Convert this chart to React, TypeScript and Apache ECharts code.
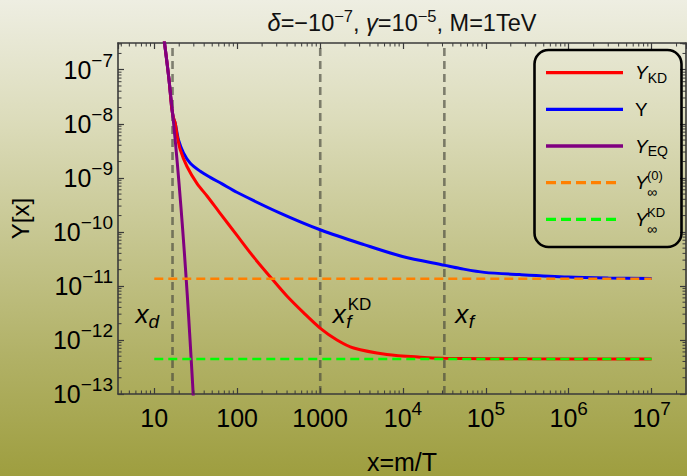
import React, { useEffect, useRef } from "react";
import * as echarts from "echarts";

const FONT = "'Liberation Sans', Arial, sans-serif";

// Axis ranges
const X_MIN = 3.65;
const X_MAX = 2.6e7;
const Y_MIN = 1e-13;
const Y_MAX = 3.12e-7;

// Tick labels
const xTickValues = [10, 100, 1000, 1e4, 1e5, 1e6, 1e7];
const xTickLabels = ["10", "100", "1000", "10{sup|4}", "10{sup|5}", "10{sup|6}", "10{sup|7}"];
const yTickValues = [1e-13, 1e-12, 1e-11, 1e-10, 1e-9, 1e-8, 1e-7];
const yTickLabels = [
  "10{sup|−13}",
  "10{sup|−12}",
  "10{sup|−11}",
  "10{sup|−10}",
  "10{sup|−9}",
  "10{sup|−8}",
  "10{sup|−7}",
];

// Y (blue)
const yX = [13.0, 15.0, 16.2, 17.0, 17.9, 19.6, 22.5, 27.2, 35.9, 47.3, 65, 99, 335, 1040, 3390, 9860, 32100, 49000, 96000, 257000, 977000, 3e6, 1e7];
const yVal = [4.1e-7, 6.9e-8, 2.0e-8, 1.3e-8, 1.02e-8, 5.0e-9, 2.9e-9, 1.86e-9, 1.32e-9, 1.02e-9, 7.8e-10, 5.4e-10, 2.2e-10, 1.07e-10, 5.8e-11, 3.5e-11, 2.4e-11, 2.1e-11, 1.78e-11, 1.62e-11, 1.46e-11, 1.4e-11, 1.37e-11];

// Y_KD (red)
const ykdX = [13.0, 15.0, 16.2, 17.0, 17.9, 18.8, 20.6, 24.8, 32.7, 43.3, 61, 99, 161, 263, 398, 631, 1000, 1600, 2540, 6400, 16200, 31000, 316000, 1e7];
const ykdVal = [4.1e-7, 6.9e-8, 2.0e-8, 1.3e-8, 1.02e-8, 6.2e-9, 3.3e-9, 1.62e-9, 7.9e-10, 4.6e-10, 2.3e-10, 8.7e-11, 3.3e-11, 1.35e-11, 6.5e-12, 3.2e-12, 1.66e-12, 1.0e-12, 7.1e-13, 5.4e-13, 4.8e-13, 4.6e-13, 4.47e-13, 4.45e-13];

// Y_EQ (purple)
const yeqX = [13.0, 15.0, 17.0, 19.0, 21.0, 23.0, 25.0, 27.0, 29.0, 29.6];
const yeqVal = [4.1e-7, 6.9e-8, 1.12e-8, 1.8e-9, 2.8e-10, 4.4e-11, 6.8e-12, 1.0e-12, 1.55e-13, 8.5e-14];

// asymptotes
const asymX = [10, 1e7];
const yInf0 = 1.36e-11;
const yInfKD = 4.45e-13;

// vertical markers
const xd = 16.6;
const xfKD = 1005;
const xf = 31600;

const COL_RED = "#ff0000";
const COL_BLUE = "#0000ff";
const COL_PURPLE = "#800080";
const COL_ORANGE = "#ff8000";
const COL_GREEN = "#00ff00";
const COL_GRAY = "rgba(70,70,60,0.65)";
const AXIS_COL = "#3a3a3a";

function labelFor(values: number[], labels: string[], v: number) {
  const lv = Math.log10(v);
  for (let i = 0; i < values.length; i++) {
    if (Math.abs(Math.log10(values[i]) - lv) < 1e-6) return labels[i];
  }
  return "";
}

function minorTicks(lo: number, hi: number) {
  const out: number[] = [];
  const e0 = Math.floor(Math.log10(lo));
  const e1 = Math.ceil(Math.log10(hi));
  for (let e = e0; e <= e1; e++) {
    for (let k = 2; k <= 9; k++) {
      const v = k * Math.pow(10, e);
      if (v > lo && v < hi) out.push(v);
    }
  }
  return out;
}

export default function App() {
  const ref = useRef<HTMLDivElement>(null);

  useEffect(() => {
    document.body.style.margin = "0";
    const chart = echarts.init(ref.current!, null, { renderer: "svg" });

    const minorX = minorTicks(X_MIN, X_MAX);
    const minorY = minorTicks(Y_MIN, Y_MAX);

    const tickLine = { color: AXIS_COL, width: 1.2 };
    const axisLine = { show: true, onZero: false, lineStyle: { color: AXIS_COL, width: 1.6 } };
    const supStyle = { fontFamily: FONT, fontSize: 19, lineHeight: 19, padding: [0, 0, 19, 0], color: "#000" };

    const curve = (name: string, xs: number[], ys: number[], color: string) => ({
      name,
      type: "line",
      data: xs.map((x, i) => [x, ys[i]]),
      symbol: "none",
      smooth: 0.3,
      lineStyle: { color, width: 3 },
    });

    const option: any = {
      animation: false,
      backgroundColor: "transparent",
      textStyle: { fontFamily: FONT },
      title: {
        text: "{it|δ}=−10{sup|−7}, {it|γ}=10{sup|−5}, M=1TeV",
        left: 402,
        top: 8,
        textAlign: "center",
        padding: 0,
        textStyle: {
          fontFamily: FONT,
          fontSize: 23.5,
          fontWeight: "normal",
          color: "#111",
          lineHeight: 29,
          rich: {
            it: { fontFamily: FONT, fontStyle: "italic", fontSize: 23.5, lineHeight: 29, color: "#111" },
            sup: { fontFamily: FONT, fontSize: 16.5, lineHeight: 16, padding: [0, 0, 13, 0], color: "#111" },
          },
        },
      },
      grid: { left: 118, right: 1, top: 43, bottom: 82, containLabel: false, outerBoundsMode: "none" },
      xAxis: [
        {
          type: "log",
          logBase: 10,
          min: X_MIN,
          max: X_MAX,
          position: "bottom",
          name: "x=m/T",
          nameLocation: "middle",
          nameGap: 55,
          nameTextStyle: { fontFamily: FONT, fontSize: 25, lineHeight: 25, color: "#000" },
          axisLine,
          axisTick: { show: true, inside: true, length: 6, lineStyle: tickLine },
          minorTick: { show: false },
          splitLine: { show: false },
          axisLabel: {
            show: true,
            showMinLabel: false,
            showMaxLabel: false,
            margin: 5,
            fontFamily: FONT,
            fontSize: 25,
            lineHeight: 38,
            color: "#000",
            formatter: (v: number) => labelFor(xTickValues, xTickLabels, v),
            rich: { sup: supStyle },
          },
        },
        {
          type: "log",
          logBase: 10,
          min: X_MIN,
          max: X_MAX,
          position: "top",
          axisLine,
          axisTick: { show: true, inside: true, length: 6, lineStyle: tickLine },
          axisLabel: { show: false },
          splitLine: { show: false },
        },
      ],
      yAxis: [
        {
          type: "log",
          logBase: 10,
          min: Y_MIN,
          max: Y_MAX,
          position: "left",
          name: "Y[x]",
          nameLocation: "middle",
          nameGap: 86,
          nameTextStyle: { fontFamily: FONT, fontSize: 24, color: "#000" },
          axisLine,
          axisTick: { show: true, inside: true, length: 6, lineStyle: tickLine },
          minorTick: { show: false },
          splitLine: { show: false },
          axisLabel: {
            show: true,
            showMinLabel: true,
            showMaxLabel: false,
            margin: 5,
            fontFamily: FONT,
            fontSize: 25,
            lineHeight: 38,
            color: "#000",
            formatter: (v: number) => labelFor(yTickValues, yTickLabels, v),
            rich: { sup: supStyle },
          },
        },
        {
          type: "log",
          logBase: 10,
          min: Y_MIN,
          max: Y_MAX,
          position: "right",
          axisLine,
          axisTick: { show: true, inside: true, length: 6, lineStyle: tickLine },
          axisLabel: { show: false },
          splitLine: { show: false },
        },
      ],
      series: [
        ...[xd, xfKD, xf].map((xv) => ({
          type: "line",
          data: [
            [xv, Y_MIN],
            [xv, Y_MAX],
          ],
          symbol: "none",
          silent: true,
          lineStyle: { color: COL_GRAY, width: 2.6, type: [8, 5] },
        })),
        curve("Y", yX, yVal, COL_BLUE),
        curve("Y_KD", ykdX, ykdVal, COL_RED),
        curve("Y_EQ", yeqX, yeqVal, COL_PURPLE),
        {
          name: "Y_inf0",
          type: "line",
          data: asymX.map((x) => [x, yInf0]),
          symbol: "none",
          lineStyle: { color: COL_ORANGE, width: 2.6, type: [9, 5] },
        },
        {
          name: "Y_infKD",
          type: "line",
          data: asymX.map((x) => [x, yInfKD]),
          symbol: "none",
          lineStyle: { color: COL_GREEN, width: 2.6, type: [9, 5] },
        },
        {
          type: "custom",
          silent: true,
          clip: false,
          z: 10,
          data: minorX.map((v) => [v, Y_MIN]),
          renderItem: (params: any, api: any) => {
            const p = api.coord([api.value(0), Y_MIN]);
            const cs = params.coordSys;
            const st = { stroke: AXIS_COL, lineWidth: 1 };
            return {
              type: "group",
              children: [
                { type: "line", shape: { x1: p[0], y1: cs.y + cs.height, x2: p[0], y2: cs.y + cs.height - 3.5 }, style: st },
                { type: "line", shape: { x1: p[0], y1: cs.y, x2: p[0], y2: cs.y + 3.5 }, style: st },
              ],
            };
          },
        },
        {
          type: "custom",
          silent: true,
          clip: false,
          z: 10,
          data: minorY.map((v) => [X_MIN, v]),
          renderItem: (params: any, api: any) => {
            const p = api.coord([X_MIN, api.value(1)]);
            const cs = params.coordSys;
            const st = { stroke: AXIS_COL, lineWidth: 1 };
            return {
              type: "group",
              children: [
                { type: "line", shape: { x1: cs.x, y1: p[1], x2: cs.x + 3.5, y2: p[1] }, style: st },
                { type: "line", shape: { x1: cs.x + cs.width, y1: p[1], x2: cs.x + cs.width - 3.5, y2: p[1] }, style: st },
              ],
            };
          },
        },
      ],
    };

    chart.setOption(option);

    const px = (x: number) => (chart.convertToPixel({ gridIndex: 0 } as any, [x, 1e-11]) as number[])[0];

    const txt = (text: string, x: number, y: number, size: number, italic: boolean, align = "left", extra: any = {}) => ({
      type: "text",
      x,
      y,
      silent: true,
      z: 100,
      style: {
        text,
        fontFamily: FONT,
        fontSize: size,
        fontStyle: italic ? "italic" : "normal",
        fill: "#000",
        align,
        verticalAlign: "middle",
        textAlign: align,
        textVerticalAlign: "middle",
        ...extra,
      },
    });

    // legend
    const lgX0 = 546;
    const lgX1 = 623;
    const rows = [72.7, 109.3, 146, 182.7, 219.3];
    const legendItems: any[] = [
      {
        type: "rect",
        shape: { x: 534.5, y: 50, width: 147, height: 197, r: 14 },
        style: { fill: "rgba(255,255,255,0)", stroke: "#000", lineWidth: 2.6 },
        silent: true,
        z: 90,
      },
    ];
    const lineDefs = [
      { color: COL_RED, dash: null },
      { color: COL_BLUE, dash: null },
      { color: COL_PURPLE, dash: null },
      { color: COL_ORANGE, dash: [10, 5] },
      { color: COL_GREEN, dash: [10, 5] },
    ];
    lineDefs.forEach((d, i) => {
      legendItems.push({
        type: "line",
        silent: true,
        z: 95,
        shape: { x1: lgX0, y1: rows[i], x2: d.dash ? 618 : lgX1, y2: rows[i] },
        style: { stroke: d.color, lineWidth: 3.3, lineDash: d.dash || undefined },
      });
    });
    const subRich = {
      s: { fontFamily: FONT, fontSize: 14, lineHeight: 14, padding: [10, 0, 0, 0] },
      y: { fontFamily: FONT, fontSize: 19, fontStyle: "italic", lineHeight: 24 },
    };
    const TX = 635;
    legendItems.push(txt("{y|Y}{s|KD}", TX, rows[0], 19, false, "left", { rich: subRich, lineHeight: 24 }));
    legendItems.push(txt("Y", TX, rows[1], 19, false));
    legendItems.push(txt("{y|Y}{s|EQ}", TX, rows[2], 19, false, "left", { rich: subRich, lineHeight: 24 }));
    legendItems.push(txt("Y", TX, rows[3], 19, true, "left", { lineHeight: 17 }));
    legendItems.push(txt("(0)", TX + 12, rows[3] - 7, 13, false, "left", { lineHeight: 11 }));
    legendItems.push(txt("∞", TX + 12, rows[3] + 9.5, 14, false, "left", { lineHeight: 10 }));
    legendItems.push(txt("Y", TX, rows[4], 19, true, "left", { lineHeight: 17 }));
    legendItems.push(txt("KD", TX + 12, rows[4] - 7, 13, false, "left", { lineHeight: 11 }));
    legendItems.push(txt("∞", TX + 12, rows[4] + 9.5, 14, false, "left", { lineHeight: 10 }));

    // annotations
    const annY = 314.3;
    const pxd = px(xd);
    const pkd = px(xfKD);
    const pf = px(xf);
    const ann: any[] = [
      txt("x", pxd - 37, annY, 26, true),
      txt("d", pxd - 24, annY + 7.5, 19, true),
      txt("x", pkd + 12.5, annY, 26, true),
      txt("f", pkd + 26, annY + 7.5, 19, true),
      txt("KD", pkd + 27.5, 304.5, 17, false),
      txt("x", pf + 11, annY, 26, true),
      txt("f", pf + 24.5, annY + 7.5, 19, true),
    ];

    chart.setOption({ graphic: { elements: [...legendItems, ...ann] } });

    return () => chart.dispose();
  }, []);

  return (
    <div
      ref={ref}
      style={{
        position: "absolute",
        left: 0,
        top: 0,
        width: 687,
        height: 476,
        background:
          "linear-gradient(to bottom, #eeeee2 0%, #dcdcbb 25%, #c6c690 50%, #b1b166 75%, #9e9e3f 100%)",
      }}
    />
  );
}
